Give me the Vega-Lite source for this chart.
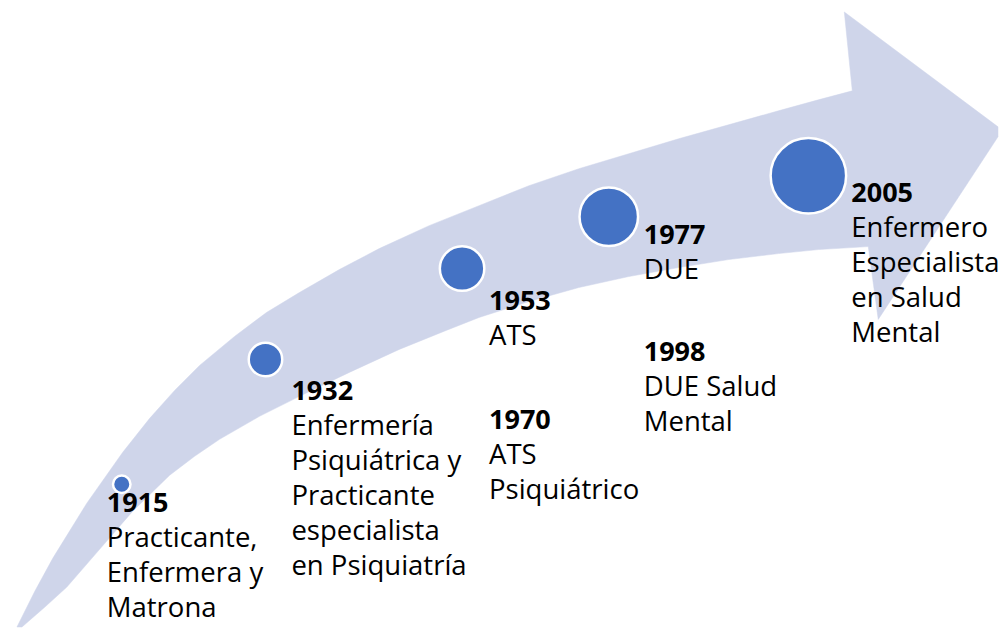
{
  "$schema": "https://vega.github.io/schema/vega-lite/v6.json",
  "width": 1000,
  "height": 628,
  "autosize": {"type": "fit", "contains": "padding"},
  "padding": 0,
  "background": "white",
  "config": {"view": {"stroke": null}},
  "datasets": {
    "arrow": [
      {"i": 1, "px": 17, "py": 628},
      {"i": 2, "px": 35, "py": 592},
      {"i": 3, "px": 53, "py": 559},
      {"i": 4, "px": 87, "py": 504},
      {"i": 5, "px": 123, "py": 453},
      {"i": 6, "px": 150, "py": 419},
      {"i": 7, "px": 175, "py": 391},
      {"i": 8, "px": 200, "py": 366},
      {"i": 9, "px": 235, "py": 337},
      {"i": 10, "px": 267, "py": 313},
      {"i": 11, "px": 300, "py": 293},
      {"i": 12, "px": 340, "py": 270},
      {"i": 13, "px": 380, "py": 249},
      {"i": 14, "px": 430, "py": 226},
      {"i": 15, "px": 480, "py": 206},
      {"i": 16, "px": 530, "py": 186},
      {"i": 17, "px": 580, "py": 169},
      {"i": 18, "px": 630, "py": 154},
      {"i": 19, "px": 680, "py": 139},
      {"i": 20, "px": 730, "py": 125},
      {"i": 21, "px": 780, "py": 111},
      {"i": 22, "px": 820, "py": 100},
      {"i": 23, "px": 854, "py": 91},
      {"i": 24, "px": 846, "py": 12},
      {"i": 25, "px": 1000, "py": 127},
      {"i": 26, "px": 1000, "py": 137},
      {"i": 27, "px": 880, "py": 320},
      {"i": 28, "px": 870, "py": 247},
      {"i": 29, "px": 820, "py": 250},
      {"i": 30, "px": 780, "py": 254},
      {"i": 31, "px": 730, "py": 260},
      {"i": 32, "px": 680, "py": 268},
      {"i": 33, "px": 630, "py": 277},
      {"i": 34, "px": 580, "py": 288},
      {"i": 35, "px": 530, "py": 302},
      {"i": 36, "px": 480, "py": 318},
      {"i": 37, "px": 447, "py": 331},
      {"i": 38, "px": 400, "py": 350},
      {"i": 39, "px": 350, "py": 373},
      {"i": 40, "px": 300, "py": 397},
      {"i": 41, "px": 260, "py": 417},
      {"i": 42, "px": 220, "py": 440},
      {"i": 43, "px": 195, "py": 457},
      {"i": 44, "px": 170, "py": 476},
      {"i": 45, "px": 133, "py": 512},
      {"i": 46, "px": 100, "py": 550},
      {"i": 47, "px": 67, "py": 588},
      {"i": 48, "px": 45, "py": 608},
      {"i": 49, "px": 22, "py": 628}
    ],
    "circles": [
      {"year": "1915", "cx": 122, "cy": 485},
      {"year": "1932", "cx": 266, "cy": 360},
      {"year": "1953", "cx": 463, "cy": 269},
      {"year": "1977", "cx": 610, "cy": 217},
      {"year": "2005", "cx": 810, "cy": 176}
    ],
    "events": [
      {"year": "1915", "lx": 107, "ly": 513, "desc": "Practicante,\nEnfermera y\nMatrona"},
      {"year": "1932", "lx": 292, "ly": 401, "desc": "Enfermería\nPsiquiátrica y\nPracticante\nespecialista\nen Psiquiatría"},
      {"year": "1953", "lx": 490, "ly": 310, "desc": "ATS"},
      {"year": "1970", "lx": 490, "ly": 430, "desc": "ATS\nPsiquiátrico"},
      {"year": "1977", "lx": 645, "ly": 244, "desc": "DUE"},
      {"year": "1998", "lx": 645, "ly": 362, "desc": "DUE Salud\nMental"},
      {"year": "2005", "lx": 853, "ly": 202, "desc": "Enfermero\nEspecialista\nen Salud\nMental"}
    ]
  },
  "layer": [
    {
      "data": {"name": "arrow"},
      "mark": {"type": "line", "interpolate": "linear-closed", "fill": "#CFD5EA", "stroke": "#CFD5EA", "strokeWidth": 0.5},
      "encoding": {
        "x": {"field": "px", "type": "quantitative", "scale": {"domain": [0, 1000], "nice": false, "zero": false}, "axis": null},
        "y": {"field": "py", "type": "quantitative", "scale": {"domain": [0, 628], "nice": false, "zero": false, "reverse": true}, "axis": null},
        "order": {"field": "i", "type": "quantitative"}
      }
    },
    {
      "data": {"name": "circles"},
      "mark": {"type": "point", "shape": "circle", "filled": true, "fill": "#4472C4", "stroke": "white", "strokeWidth": 2.5, "opacity": 1, "fillOpacity": 1, "strokeOpacity": 1},
      "encoding": {
        "x": {"field": "cx", "type": "quantitative", "axis": null},
        "y": {"field": "cy", "type": "quantitative", "axis": null},
        "size": {"field": "year", "type": "ordinal", "scale": {"type": "ordinal", "domain": ["1915", "1932", "1953", "1977", "2005"], "range": [306, 1122, 1980, 3422, 5700]}, "legend": null}
      }
    },
    {
      "data": {"name": "events"},
      "mark": {"type": "text", "font": "Open Sans", "fontSize": 27, "fontWeight": "bold", "align": "left", "baseline": "alphabetic", "color": "black"},
      "encoding": {
        "x": {"field": "lx", "type": "quantitative", "axis": null},
        "y": {"field": "ly", "type": "quantitative", "axis": null},
        "text": {"field": "year", "type": "nominal"}
      }
    },
    {
      "data": {"name": "events"},
      "mark": {"type": "text", "font": "Open Sans", "fontSize": 27.5, "align": "left", "baseline": "alphabetic", "dy": 35, "lineBreak": "\n", "lineHeight": 35, "color": "black"},
      "encoding": {
        "x": {"field": "lx", "type": "quantitative", "axis": null},
        "y": {"field": "ly", "type": "quantitative", "axis": null},
        "text": {"field": "desc", "type": "nominal"}
      }
    }
  ]
}
